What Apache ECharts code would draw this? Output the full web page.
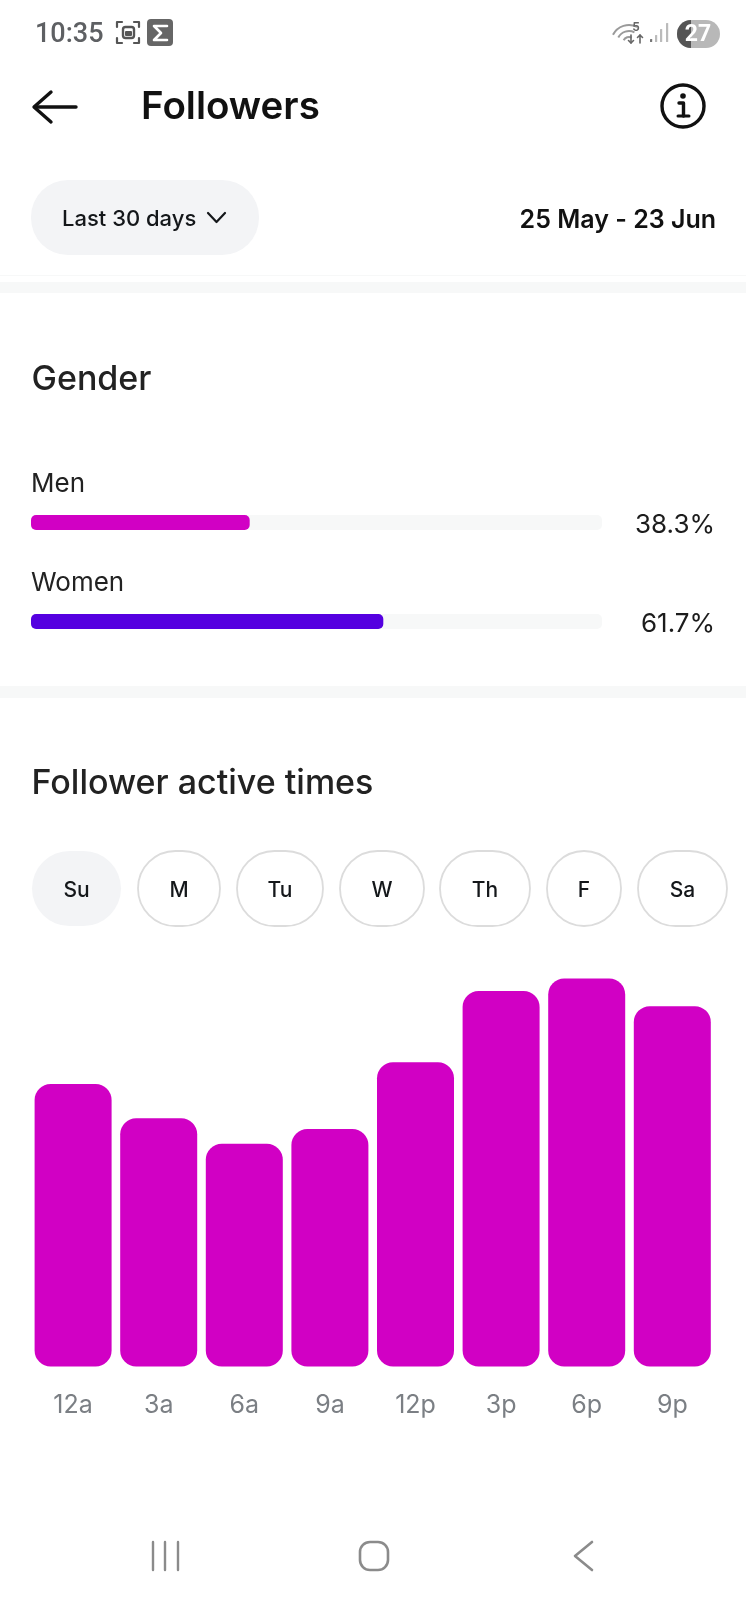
<!DOCTYPE html>
<html><head><meta charset="utf-8">
<style>html,body{margin:0;padding:0;background:#fff}#c{width:746px;height:1600px}</style>
<script src="https://cdn.jsdelivr.net/npm/echarts@6/dist/echarts.min.js"></script>
</head><body><div id="c"></div>
<script>
const genderCategories = ['Men', 'Women'];
const genderValues = [38.3, 61.7];
const hourCategories = ['12a', '3a', '6a', '9a', '12p', '3p', '6p', '9p'];
const activeValues = [72.8, 64, 57.4, 61.2, 78.4, 96.8, 100, 92.9];
const dayLabels = ['Su', 'M', 'Tu', 'W', 'Th', 'F', 'Sa'];

const FONT = 'Inter, Roboto, sans-serif';
const MAGENTA = '#d100c4', VIOLET = '#5500e0', INK = '#111418';
const dayBoxes = [[32,89],[138,82],[237,86],[340,84],[440,90],[547,74],[638,89]];

const g = [];
const text = (x, y, t, o = {}) => g.push({type:'text', x, y, silent:true, style:Object.assign({
  text:t, fill:INK, font:'500 24px ' + FONT, textVerticalAlign:'middle', textBaseline:'middle'}, o)});
const line = (pts, stroke, w) => g.push({type:'polyline', silent:true, shape:{points:pts},
  style:{stroke, lineWidth:w, fill:null, lineCap:'round', lineJoin:'round'}});
const rect = (x, y, w, h, r, style) => g.push({type:'rect', silent:true, shape:{x, y, width:w, height:h, r}, style});

// status bar
text(35, 35, '10:35', {fill:'#5e6063', font:'500 27px Roboto, sans-serif'});
[[[117,27],[117,22],[122,22]], [[134,22],[139,22],[139,27]], [[139,38],[139,43],[134,43]], [[122,43],[117,43],[117,38]]]
  .forEach(p => line(p, '#555', 2.2));
rect(123, 27, 11, 11, 2.5, {fill:'none', stroke:'#555', lineWidth:2.4});
rect(125, 31, 7, 5, 1, {fill:'#555'});
rect(147, 19, 26, 27, 4, {fill:'#666'});
line([[167,26],[154,26],[161,33],[154,40],[167,40]], '#fff', 2.6);
[18,12,6].forEach(r => g.push({type:'arc', silent:true,
  shape:{cx:629, cy:43, r:r, startAngle:-Math.PI*0.85, endAngle:-Math.PI*0.35},
  style:{stroke:'#9a9a9a', lineWidth:2, fill:null}}));
text(636, 28, '5', {fill:'#666', font:'600 13px Roboto', textAlign:'center'});
line([[631,35],[631,43]], '#666', 1.6);
line([[628.5,40.5],[631,43],[633.5,40.5]], '#666', 1.6);
line([[640,43],[640,35]], '#666', 1.6);
line([[637.5,37.5],[640,35],[642.5,37.5]], '#666', 1.6);
[[650,39,3,'#777'],[655,35,7,'#bbb'],[660,29,13,'#bbb'],[666,23,19,'#bbb']].forEach(b =>
  rect(b[0], b[1], 2.2, b[2], 0.5, {fill:b[3]}));
rect(677, 20, 43, 28, 14, {fill:'#b8b8b8'});
g.push({type:'sector', silent:true, shape:{cx:691, cy:34, r:14, startAngle:Math.PI/2, endAngle:Math.PI*1.5}, style:{fill:'#555'}});
text(698, 35, '27', {fill:'#fff', font:'700 23px Roboto', textAlign:'center'});

// header
line([[76,107],[35,107]], '#111', 3.4);
line([[51,92],[34,107],[51,122]], '#111', 3.4);
text(141, 107, 'Followers', {font:'600 38.5px ' + FONT, fill:'#111'});
g.push({type:'circle', silent:true, shape:{cx:683, cy:106, r:21}, style:{fill:null, stroke:'#111', lineWidth:3.4}});
g.push({type:'circle', silent:true, shape:{cx:683, cy:96, r:2.8}, style:{fill:'#111'}});
line([[679,103],[683.5,103],[683.5,116]], '#111', 3.4);
line([[678,116],[689,116]], '#111', 3);

// range row
rect(31, 180, 228, 75, 37, {fill:'#f3f4f6'});
text(62, 219, 'Last 30 days', {font:'500 22px ' + FONT, fill:'#14171a'});
line([[208,213],[216.5,222],[225,213]], '#14171a', 2.2);
text(716, 220, '25 May - 23 Jun', {font:'600 25px ' + FONT, fill:'#111', textAlign:'right'});

// dividers
rect(0, 275, 746, 1, 0, {fill:'#f7f8f8'});
rect(0, 282, 746, 11, 0, {fill:'#f7f8f8'});
rect(0, 686, 746, 12, 0, {fill:'#f7f8f8'});

// headings
text(31.5, 380, 'Gender', {font:'500 34px ' + FONT, fill:'#222'});
text(31.5, 784, 'Follower active times', {font:'500 34px ' + FONT, fill:'#222'});

// day pills
dayLabels.forEach((d, i) => {
  const [x, w] = dayBoxes[i];
  rect(x, 851, w, 75, 37.5, i === 0 ? {fill:'#f3f4f6'} : {fill:'#fff', stroke:'#dcdcdc', lineWidth:1.8});
  text(x + w / 2, 891, d, {font:'500 21px ' + FONT, fill:'#14171a', textAlign:'center'});
});

// nav bar
[153, 165, 178].forEach(x => line([[x,1542],[x,1570]], '#8b8b8b', 2.4));
rect(360, 1542, 28, 28, 10, {fill:null, stroke:'#8b8b8b', lineWidth:2.6});
line([[592,1542],[575,1556],[592,1570]], '#8b8b8b', 2.6);

const chart = echarts.init(document.getElementById('c'), null, {renderer:'canvas'});
chart.setOption({
  animation:false,
  backgroundColor:'#ffffff',
  textStyle:{fontFamily:FONT},
  grid:[
    {left:31, width:571, top:473, height:198},
    {left:30.3, width:684.8, top:978.6, height:387.8}
  ],
  xAxis:[
    {gridIndex:0, type:'value', min:0, max:100, show:false},
    {gridIndex:1, type:'category', data:hourCategories,
      axisLine:{show:false}, axisTick:{show:false},
      axisLabel:{color:'#7b7f84', fontSize:25, fontFamily:FONT, margin:27, interval:0}}
  ],
  yAxis:[
    {gridIndex:0, type:'category', inverse:true, data:genderCategories, show:false},
    {gridIndex:0, type:'category', inverse:true, position:'right',
      data:genderValues.map(v => v.toFixed(1) + '%'),
      axisLine:{show:false}, axisTick:{show:false},
      axisLabel:{color:'#1c1c1c', fontSize:26, fontFamily:FONT, align:'right', margin:113, verticalAlign:'top', lineHeight:5}},
    {gridIndex:1, type:'value', min:0, max:100, show:false}
  ],
  series:[
    {type:'bar', xAxisIndex:0, yAxisIndex:0, barWidth:15,
      showBackground:true,
      backgroundStyle:{color:'#f7f8f8', borderRadius:5},
      data:genderValues.map((v, i) => ({value:v, itemStyle:{color:i === 0 ? MAGENTA : VIOLET, borderRadius:5}})),
      label:{show:true, position:[0,-44], formatter:'{b}', color:'#222', fontSize:26, fontFamily:FONT, fontWeight:400}},
    {type:'bar', xAxisIndex:1, yAxisIndex:2, barWidth:77,
      itemStyle:{color:MAGENTA, borderRadius:16},
      data:activeValues}
  ],
  graphic:{elements:g}
});
</script></body></html>
